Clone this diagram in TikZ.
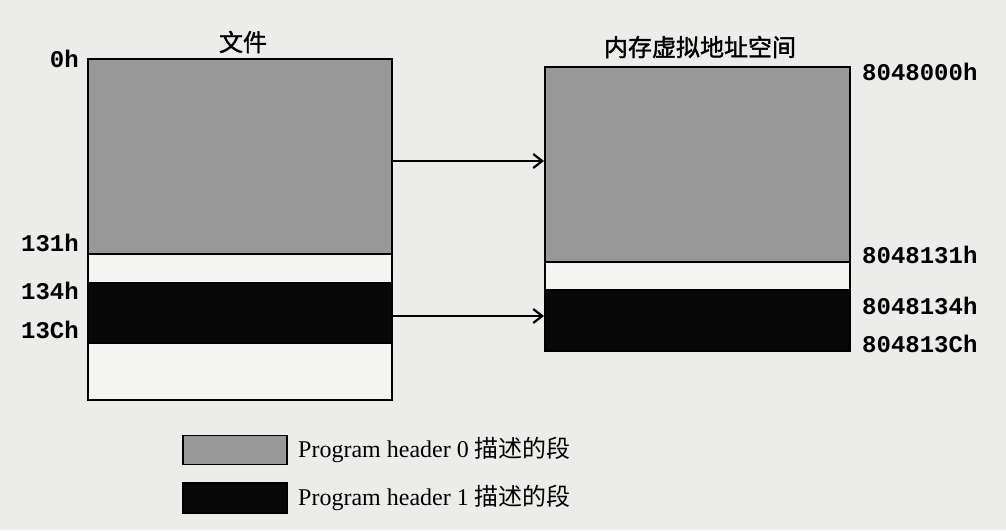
\documentclass[tikz,border=0pt]{standalone}
\usepackage{fontspec}
\setmainfont{Liberation Serif}
\newfontfamily\cjk[FakeBold=1.5]{Noto Sans CJK SC}
\newfontfamily\cjklight{Noto Sans CJK SC}
\newfontfamily\monof{Liberation Mono}
\usetikzlibrary{arrows.meta}
\definecolor{paper}{RGB}{236,236,234}
\definecolor{seggray}{RGB}{152,152,152}
\definecolor{segblack}{RGB}{8,8,8}
\definecolor{segwhite}{RGB}{244,244,242}
\tikzset{
  band/.style={draw=black,line width=2pt,inner sep=0pt,anchor=north west},
  grayband/.style={band,fill=seggray},
  blackband/.style={band,fill=segblack},
  whiteband/.style={band,fill=segwhite},
  addr/.style={inner sep=0pt,font=\monof\bfseries\fontsize{24}{28}\selectfont},
  title/.style={inner sep=0pt,font=\cjk\fontsize{24}{28}\selectfont},
  legtext/.style={inner sep=0pt,anchor=west,font=\fontsize{24}{28}\selectfont},
  arr/.style={line width=2.6pt,-{Straight Barb[length=9pt,width=14pt,line width=2.2pt]}}
}
\begin{document}
\begin{tikzpicture}[x=1pt,y=-1pt]
\fill[paper] (0,0) rectangle (1006,530);
\useasboundingbox (0,0) rectangle (1006,530);
% file
\node[grayband,minimum width=304pt,minimum height=195pt] (fgray) at (87,58) {};
\node[whiteband,minimum width=304pt,minimum height=29pt] (fwhite1) at (87,253) {};
\node[blackband,minimum width=304pt,minimum height=60pt] (fblack) at (87,282) {};
\node[whiteband,minimum width=304pt,minimum height=57pt] (fwhite2) at (87,342) {};
% memory
\node[grayband,minimum width=305pt,minimum height=195pt] (mgray) at (544,66) {};
\node[whiteband,minimum width=305pt,minimum height=28pt] (mwhite) at (544,261) {};
\node[blackband,minimum width=305pt,minimum height=61pt] (mblack) at (544,289) {};
% titles
\node[title] (tfile) at (243,42) {文件};
\node[title] (tmem) at (700,47) {内存虚拟地址空间};
% left labels
\node[addr,anchor=east] (l0) at (79,59) {0h};
\node[addr,anchor=east] (l131) at (79,243) {131h};
\node[addr,anchor=east] (l134) at (79,291) {134h};
\node[addr,anchor=east] (l13c) at (79,330) {13Ch};
% right labels
\node[addr,anchor=west] (r0) at (862,72) {8048000h};
\node[addr,anchor=west] (r131) at (862,255) {8048131h};
\node[addr,anchor=west] (r134) at (862,306) {8048134h};
\node[addr,anchor=west] (r13c) at (862,344) {804813Ch};
% arrows
\coordinate (a0) at ([yshift=-4.5pt]fgray.east);
\draw[arr] (a0) -- (a0 -| mgray.west);
\coordinate (a1) at ([yshift=-3pt]fblack.east);
\draw[arr] (a1) -- (a1 -| mblack.west);
% legend
\node[draw=black,line width=1.6pt,fill=seggray,minimum width=104pt,minimum height=29pt,inner sep=0pt] (lg0) at (235,450) {};
\node[draw=black,line width=1.6pt,fill=segblack,minimum width=104pt,minimum height=30pt,inner sep=0pt] (lg1) at (235,498) {};
\node[legtext] (lt0) at (298,450) {Program header 0 {\cjklight 描述的段}};
\node[legtext] (lt1) at (298,498) {Program header 1 {\cjklight 描述的段}};
\end{tikzpicture}
\end{document}
